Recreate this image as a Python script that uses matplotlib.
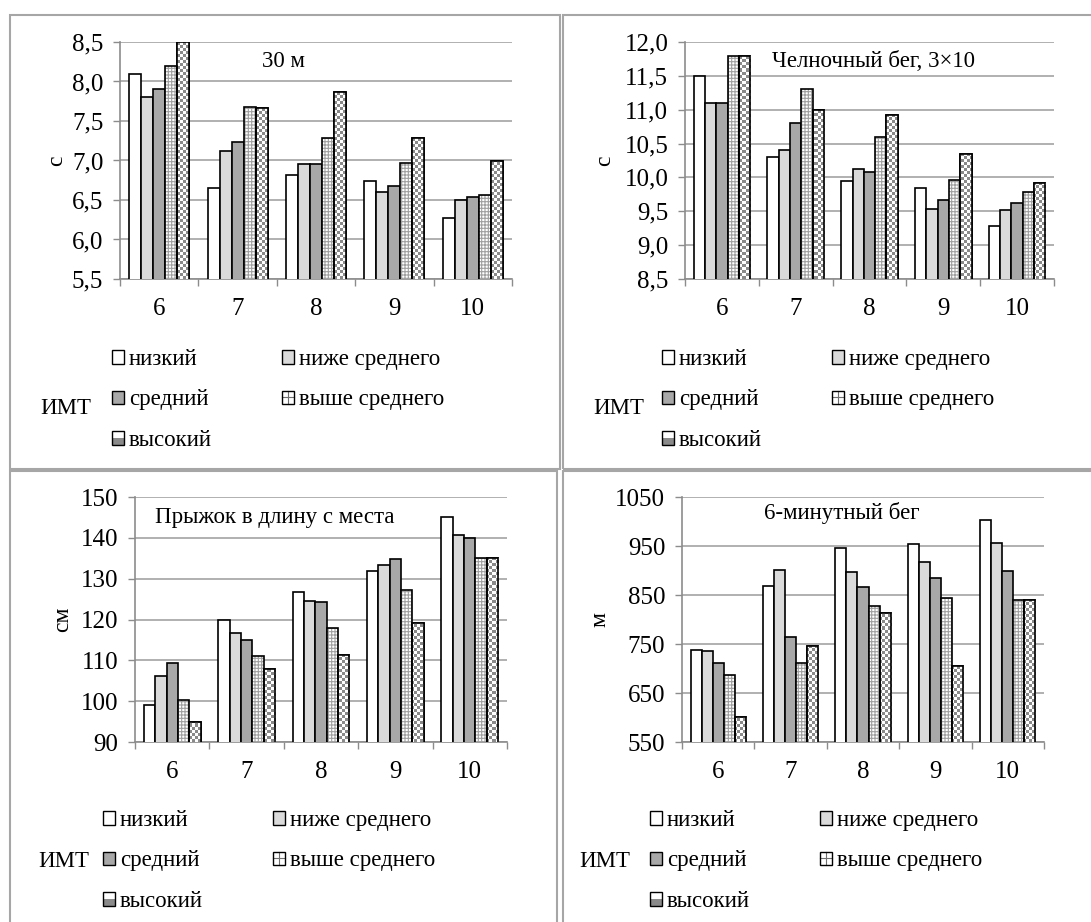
import numpy as np
import matplotlib
matplotlib.use('Agg')
import matplotlib.pyplot as plt
from matplotlib.patches import Rectangle
from matplotlib.lines import Line2D
from matplotlib.colors import ListedColormap
from matplotlib.legend_handler import HandlerBase

plt.rcParams['font.family'] = ['Liberation Serif', 'DejaVu Serif']
plt.rcParams['hatch.linewidth'] = 0.8

ages = ['6', '7', '8', '9', '10']
bmi_groups = ['низкий', 'ниже среднего', 'средний', 'выше среднего', 'высокий']

# 30 м, с  (строки: низкий ... высокий)
run30 = [[8.10, 6.65, 6.82, 6.74, 6.27],
         [7.80, 7.12, 6.95, 6.60, 6.50],
         [7.90, 7.23, 6.96, 6.68, 6.54],
         [8.20, 7.68, 7.28, 6.97, 6.56],
         [8.50, 7.66, 7.87, 7.28, 6.99]]
# челночный бег 3x10, с
shuttle = [[11.50, 10.30, 9.95, 9.85, 9.28],
           [11.10, 10.40, 10.12, 9.54, 9.52],
           [11.10, 10.80, 10.08, 9.66, 9.62],
           [11.80, 11.30, 10.60, 9.96, 9.79],
           [11.80, 11.00, 10.92, 10.34, 9.92]]
# прыжок в длину с места, см
jump = [[99.1, 119.8, 126.7, 131.8, 145.0],
        [106.1, 116.7, 124.6, 133.4, 140.8],
        [109.4, 114.9, 124.4, 134.7, 139.9],
        [100.4, 111.1, 117.9, 127.3, 135.0],
        [94.8, 108.0, 111.2, 119.1, 135.0]]
# 6-минутный бег, м
run6 = [[737, 869, 946, 954, 1004],
        [736, 901, 897, 917, 957],
        [711, 764, 867, 885, 898],
        [686, 712, 827, 843, 839],
        [601, 745, 814, 705, 840]]

W, H = 1091, 922
GRAY = '#a3a3a3'
AXGRAY = '#8c8c8c'
CHECK = '#8a8a8a'
faces = ['white', '#dadada', '#a8a8a8', 'white', 'white']
kinds = ['plain', 'plain', 'plain', 'grid', 'check']


def px_box(x0, y0, x1, y1):
    return [x0 / W, 1 - y1 / H, (x1 - x0) / W, (y1 - y0) / H]


def make_handler(kind, face):
    class H_(HandlerBase):
        def create_artists(self, legend, orig, xd, yd, w, h, fs, trans):
            x0, y0 = -xd, -yd
            arts = [Rectangle((x0, y0), w, h, facecolor=face, edgecolor='none', transform=trans)]
            if kind == 'grid':
                arts.append(Line2D([x0 + w / 2] * 2, [y0, y0 + h], color='#707070', lw=0.8, transform=trans))
                arts.append(Line2D([x0, x0 + w], [y0 + h / 2] * 2, color='#707070', lw=0.8, transform=trans))
            if kind == 'check':
                arts.append(Rectangle((x0 + w / 2, y0), w / 2, h / 2, facecolor=CHECK, edgecolor='none', transform=trans))
                arts.append(Rectangle((x0, y0 + h / 2), w / 2, h / 2, facecolor='white', edgecolor='none', transform=trans))
                arts.append(Rectangle((x0, y0), w / 2, h / 2, facecolor=CHECK, edgecolor='none', transform=trans))
            arts.append(Rectangle((x0, y0), w, h, fill=False, edgecolor='black', lw=1.0, transform=trans))
            return arts
    return H_()


def draw_panel(fig, box, data, ymin, ymax, step, fmt, unit, title, title_xy, ylab_x,
               leg_xy, imt_xy):
    ax = fig.add_axes(px_box(*box))
    x = np.arange(len(ages))
    bw = 0.153
    ax_w = box[2] - box[0]
    ax_h = box[3] - box[1]
    checker = (np.add.outer(np.arange(int(ax_h / 3)), np.arange(int(ax_w / 3))) % 2)
    cmap = ListedColormap(['white', CHECK])
    for i, vals in enumerate(data):
        xs = x + (i - 2) * bw
        if kinds[i] == 'plain':
            ax.bar(xs, vals, bw, color=faces[i], edgecolor='black', lw=1.2, zorder=3)
        elif kinds[i] == 'grid':
            ax.bar(xs, vals, bw, color='white', edgecolor='#a0a0a0', hatch='+++++', lw=0, zorder=3)
            ax.bar(xs, vals, bw, fill=False, edgecolor='black', lw=1.2, zorder=4)
        else:
            bars = ax.bar(xs, vals, bw, color='white', edgecolor='black', lw=1.2, zorder=3)
            for b in bars:
                im = ax.imshow(checker, extent=(0, 1, 0, 1), transform=ax.transAxes, cmap=cmap,
                               aspect='auto', interpolation='nearest', zorder=3.5, origin='lower')
                im.set_clip_path(b)
            ax.bar(xs, vals, bw, fill=False, edgecolor='black', lw=1.2, zorder=4)

    ax.set_xlim(-0.5, len(ages) - 0.5)
    ax.set_ylim(ymin, ymax)
    ticks = np.arange(ymin, ymax + step / 2, step)
    ax.set_yticks(ticks)
    ax.set_yticklabels([fmt(t) for t in ticks])
    ax.set_xticks(np.arange(len(ages) + 1) - 0.5)
    ax.set_xticklabels([])
    ax.set_xticks(x, minor=True)
    ax.set_xticklabels(ages, minor=True)
    ax.tick_params(axis='x', which='major', length=5, color=AXGRAY, width=1.0, direction='out')
    ax.tick_params(axis='x', which='minor', length=0, pad=14, labelsize=18)
    ax.tick_params(axis='y', length=5, color=AXGRAY, width=1.0, pad=7, labelsize=18)
    ax.grid(axis='y', color=GRAY, lw=1.2)
    ax.set_axisbelow(True)
    for s in ['top', 'right']:
        ax.spines[s].set_visible(False)
    for s in ['left', 'bottom']:
        ax.spines[s].set_color(AXGRAY)
        ax.spines[s].set_linewidth(1.2)

    ax.set_ylabel(unit, fontsize=17)
    ax.yaxis.set_label_coords(ylab_x, 0.5)
    ax.yaxis.label.set_verticalalignment('center')
    ax.text(title_xy[0], title_xy[1], title, transform=ax.transAxes, ha='center', va='center', fontsize=16.5)

    handles = [Rectangle((0, 0), 1, 1) for _ in bmi_groups]
    hmap = {h: make_handler(kinds[i], faces[i]) for i, h in enumerate(handles)}
    order = [0, 2, 4, 1, 3]
    fig.legend([handles[k] for k in order], [bmi_groups[k] for k in order], handler_map=hmap,
               loc='upper left', bbox_to_anchor=(leg_xy[0] / W, 1 - leg_xy[1] / H), ncol=2,
               frameon=False, fontsize=16.5, borderpad=0, borderaxespad=0, handlelength=0.52,
               handleheight=0.52, handletextpad=0.22, labelspacing=0.85, columnspacing=3.05)
    fig.text(imt_xy[0] / W, 1 - imt_xy[1] / H, 'ИМТ', ha='center', va='center', fontsize=16.5)
    return ax


def comma(nd):
    return lambda v: f'{v:.{nd}f}'.replace('.', ',')


fig = plt.figure(figsize=(W / 100, H / 100), dpi=100)

# рамки панелей
for (x0, y0, x1, y1) in [(10, 15, 560, 469), (563, 15, 1100, 469),
                         (10, 471, 557, 930), (563, 471, 1100, 930)]:
    fig.add_artist(Rectangle((x0 / W, 1 - y1 / H), (x1 - x0) / W, (y1 - y0) / H,
                             transform=fig.transFigure, fill=False, edgecolor='#a6a6a6', lw=1.5))

draw_panel(fig, (120, 42, 512, 279), run30, 5.5, 8.5, 0.5, comma(1), 'с',
           '30 м', (0.416, 0.916), -0.161, (112, 349), (66, 408))
draw_panel(fig, (685, 42, 1054, 279), shuttle, 8.5, 12.0, 0.5, comma(1), 'с',
           'Челночный бег, 3×10', (0.51, 0.916), -0.217, (662, 349), (619, 408))
draw_panel(fig, (135, 497, 507, 742), jump, 90, 150, 10, comma(0), 'см',
           'Прыжок в длину с места', (0.376, 0.918), -0.194, (103, 810), (64, 861))
draw_panel(fig, (682, 497, 1044, 742), run6, 550, 1050, 100, comma(0), 'м',
           '6-минутный бег', (0.442, 0.935), -0.227, (650, 810), (605, 861))

fig.savefig('out.png', dpi=100)
